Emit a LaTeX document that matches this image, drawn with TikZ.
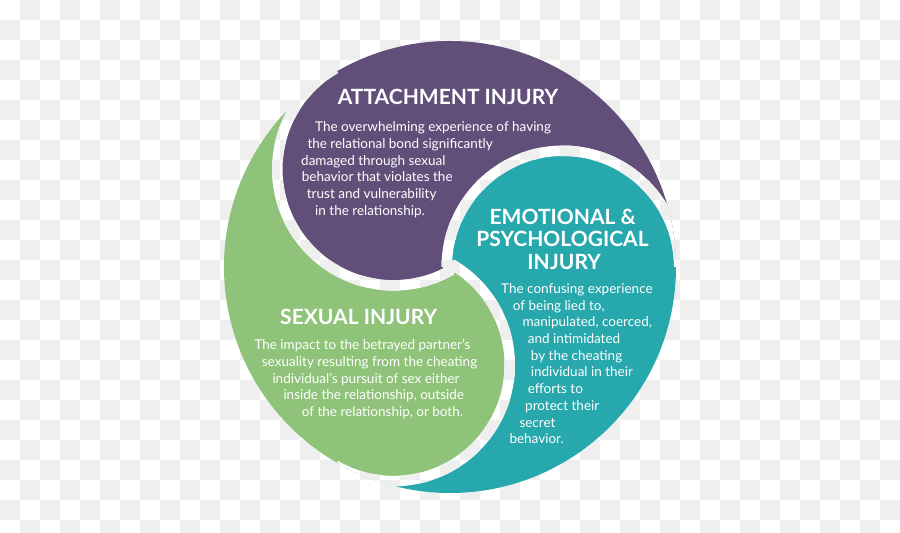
\documentclass[tikz,border=0pt]{standalone}
\usepackage{fontspec}
\setmainfont{Lato}
\usetikzlibrary{calc}
\definecolor{attach}{RGB}{97,79,122}
\definecolor{emo}{RGB}{38,168,172}
\definecolor{sexc}{RGB}{142,195,121}
\definecolor{chkgray}{RGB}{239,239,239}
\newcommand\chkboard{%
  \fill[white] (0,0) rectangle (900,533);
  \foreach \i in {0,...,44}{\foreach \j in {0,...,26}{%
    \pgfmathtruncatemacro\chkpar{mod(\i+\j,2)}%
    \ifnum\chkpar=1 \fill[chkgray] ({20*\i},{533-20*\j}) rectangle ++(20,-20);\fi}}}
\begin{document}
\begin{tikzpicture}[x=1pt,y=1pt,
  ttl/.style={text=white, font=\fontsize{21}{22}\selectfont\bfseries, inner sep=0, anchor=base},
  ln/.style={text=white, font=\fontsize{13.5}{16}\selectfont, inner sep=0, anchor=base west}]
\useasboundingbox (0,0) rectangle (900,533);
\chkboard
\coordinate (O) at (450,266);
\coordinate (cp) at ($(O)+(120:113)$);
\coordinate (ct) at ($(O)+(0:113)$);
\coordinate (cg) at ($(O)+(240:113)$);
% pieces
\fill[attach] (O) arc[start angle=300,end angle=120,radius=113]
  arc[start angle=120,end angle=0,radius=226]
  arc[start angle=0,end angle=180,radius=113] -- cycle;
\fill[emo] (O) arc[start angle=180,end angle=0,radius=113]
  arc[start angle=0,end angle=-120,radius=226]
  arc[start angle=-120,end angle=60,radius=113] -- cycle;
\fill[sexc] (O) arc[start angle=60,end angle=-120,radius=113]
  arc[start angle=240,end angle=120,radius=226]
  arc[start angle=120,end angle=300,radius=113] -- cycle;
% gaps
\begin{scope}
\clip (O) circle (226);
\clip ($(cp)+(120:121.5)$) arc[start angle=120,end angle=300,radius=121.5]
   -- ($(cp)+(300:111)$) arc[start angle=300,end angle=120,radius=111] -- cycle
 ($(ct)+(0:121.5)$) arc[start angle=0,end angle=180,radius=121.5]
   -- ($(ct)+(180:111)$) arc[start angle=180,end angle=0,radius=111] -- cycle
 ($(cg)+(-120:121.5)$) arc[start angle=-120,end angle=60,radius=121.5]
   -- ($(cg)+(60:111)$) arc[start angle=60,end angle=-120,radius=111] -- cycle
 (O) circle (7);
\chkboard
\end{scope}
% texts
\begin{scope}[shift={(0,533)}, y=-1pt]
\node[ttl] (t1) at (448,104.8) {ATTACHMENT INJURY};
\node[ln] (a1) at (315,131.8) {The overwhelming experience of having};
\node[ln] (a2) at (307.3,148.5) {the relational bond significantly};
\node[ln] (a3) at (301,165.2) {damaged through sexual};
\node[ln] (a4) at (301.7,181.8) {behavior that violates the};
\node[ln] (a5) at (306.7,198.5) {trust and vulnerability};
\node[ln] (a6) at (315,215.2) {in the relationship.};
\node[ttl] (t2a) at (562.7,224.2) {EMOTIONAL \&};
\node[ttl] (t2b) at (562.5,246.8) {PSYCHOLOGICAL};
\node[ttl] (t2c) at (564.2,269.2) {INJURY};
\node[ln] (e1) at (501,293.2) {The confusing experience};
\node[ln] (e2) at (512.7,310.2) {of being lied to,};
\node[ln] (e3) at (522.3,326.8) {manipulated, coerced,};
\node[ln] (e4) at (527.7,343.5) {and intimidated};
\node[ln] (e5) at (530.7,360.2) {by the cheating};
\node[ln] (e6) at (530.7,376.8) {individual in their};
\node[ln] (e7) at (527.7,393.8) {efforts to};
\node[ln] (e8) at (525,410.5) {protect their};
\node[ln] (e9) at (519.3,427.8) {secret};
\node[ln] (e10) at (509.3,443.8) {behavior.};
\node[ttl] (t3) at (358.7,324.8) {SEXUAL INJURY};
\node[ln] (s1) at (254.3,349.5) {The impact to the betrayed partner’s};
\node[ln] (s2) at (261.7,366.5) {sexuality resulting from the cheating};
\node[ln] (s3) at (272.3,383.2) {individual’s pursuit of sex either};
\node[ln] (s4) at (283.3,399.8) {inside the relationship, outside};
\node[ln] (s5) at (301.7,416.5) {of the relationship, or both.};
\end{scope}
\end{tikzpicture}
\end{document}
